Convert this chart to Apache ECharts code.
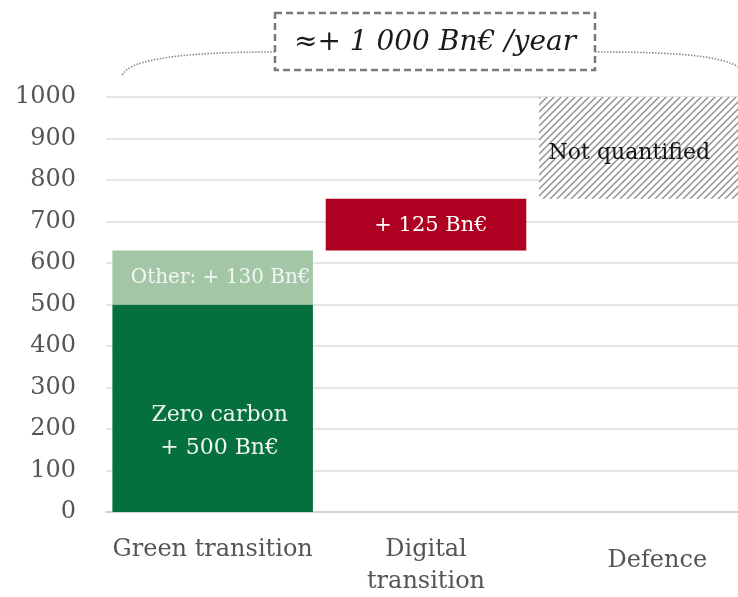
<!DOCTYPE html>
<html>
<head>
<meta charset="utf-8">
<script src="https://cdn.jsdelivr.net/npm/echarts@6/dist/echarts.min.js"></script>
<style>
  html, body { margin: 0; padding: 0; background: #ffffff; }
  #chart { width: 738px; height: 597px; }
</style>
</head>
<body>
<div id="chart"></div>
<script>
// Categories and annual investment needs (Bn€ per year)
const categories = ['Green transition', 'Digital\ntransition', 'Defence'];
const zeroCarbon = [500, '-', '-'];
const otherGreen = [130, '-', '-'];
const digital = ['-', 125, '-'];
const totalEstimate = 1000;
const yTicks = [0, 100, 200, 300, 400, 500, 600, 700, 800, 900, 1000];

// Waterfall base: each category starts where the previous one ended
const greenTotal = zeroCarbon[0] + otherGreen[0];
const digitalTop = greenTotal + digital[1];
const offsets = ['-', greenTotal, digitalTop];
const defence = ['-', '-', totalEstimate - digitalTop];

// Diagonal hatch used for the unquantified defence block
function hatchPattern() {
  const c = document.createElement('canvas');
  const s = 7;
  c.width = s; c.height = s;
  const ctx = c.getContext('2d');
  ctx.fillStyle = '#ffffff';
  ctx.fillRect(0, 0, s, s);
  ctx.strokeStyle = '#939393';
  ctx.lineWidth = 1.5;
  ctx.beginPath();
  ctx.moveTo(-1, s + 1); ctx.lineTo(s + 1, -1);
  ctx.moveTo(-1, 1); ctx.lineTo(1, -1);
  ctx.moveTo(s - 1, s + 1); ctx.lineTo(s + 1, s - 1);
  ctx.stroke();
  return c;
}

const serif = "'DejaVu Serif', 'Liberation Serif', serif";
const chart = echarts.init(document.getElementById('chart'));

chart.setOption({
  animation: false,
  backgroundColor: '#ffffff',
  grid: { left: 106, width: 640, top: 97, bottom: 85, outerBoundsMode: 'none' },
  xAxis: {
    type: 'category',
    data: categories,
    axisTick: { show: false },
    axisLine: { show: true, lineStyle: { color: '#d4d4d4', width: 2 } },
    axisLabel: {
      color: '#555555',
      fontFamily: serif,
      fontSize: 24,
      lineHeight: 32,
      margin: 22,
      interval: 0,
      formatter: function (v) {
        return v === 'Defence' ? '{d|' + v + '}' : v;
      },
      rich: {
        d: { fontFamily: serif, fontSize: 24, color: '#555555', padding: [22, 0, 0, 36] }
      }
    }
  },
  yAxis: {
    type: 'value',
    min: yTicks[0],
    max: yTicks[yTicks.length - 1],
    interval: 100,
    axisLine: { show: false },
    axisTick: { show: false },
    splitLine: { lineStyle: { color: '#dcdcdc', width: 1.5 } },
    axisLabel: {
      color: '#555555',
      fontFamily: serif,
      fontSize: 24,
      margin: 30,
      formatter: function (v) { return String(v); }
    }
  },
  series: [
    {
      name: 'offset',
      type: 'bar',
      stack: 'total',
      barWidth: '94%',
      data: offsets,
      itemStyle: { color: 'transparent' },
      silent: true
    },
    {
      name: 'Zero carbon',
      type: 'bar',
      stack: 'total',
      data: zeroCarbon,
      itemStyle: { color: '#05703d' },
      label: {
        show: true,
        position: 'inside',
        offset: [7, 24],
        formatter: function (p) { return 'Zero carbon\n+ ' + p.value + ' Bn€'; },
        color: '#eef4ee',
        fontFamily: serif,
        fontSize: 22,
        lineHeight: 33
      }
    },
    {
      name: 'Other',
      type: 'bar',
      stack: 'total',
      data: otherGreen,
      itemStyle: { color: '#a3c7a6' },
      label: {
        show: true,
        position: 'inside',
        offset: [8, 0],
        formatter: function (p) { return 'Other: + ' + p.value + ' Bn€'; },
        color: '#f3f7f3',
        fontFamily: serif,
        fontSize: 20
      }
    },
    {
      name: 'Digital',
      type: 'bar',
      stack: 'total',
      data: digital,
      itemStyle: { color: '#ae0020' },
      label: {
        show: true,
        position: 'inside',
        offset: [5, 1],
        formatter: function (p) { return '+ ' + p.value + ' Bn€'; },
        color: '#ffffff',
        fontFamily: serif,
        fontSize: 21
      }
    },
    {
      name: 'Defence',
      type: 'bar',
      stack: 'total',
      data: defence,
      itemStyle: { color: { image: hatchPattern(), repeat: 'repeat' } },
      label: {
        show: true,
        position: 'inside',
        offset: [-10, 5],
        formatter: 'Not quantified',
        color: '#151515',
        fontFamily: serif,
        fontSize: 22
      }
    }
  ],
  graphic: [
    {
      type: 'bezierCurve',
      shape: { x1: 275, y1: 52, cpx1: 190, cpy1: 52, cpx2: 128, cpy2: 58, x2: 122, y2: 76 },
      style: { stroke: '#8a8a8a', lineWidth: 1.6, lineDash: [1.5, 1.5], fill: null }
    },
    {
      type: 'bezierCurve',
      shape: { x1: 595, y1: 52, cpx1: 680, cpy1: 52, cpx2: 728, cpy2: 56, x2: 742, y2: 70 },
      style: { stroke: '#8a8a8a', lineWidth: 1.6, lineDash: [1.5, 1.5], fill: null }
    },
    {
      type: 'rect',
      shape: { x: 275, y: 13, width: 320, height: 57 },
      style: { fill: '#ffffff', stroke: '#7a7a7a', lineWidth: 2.5, lineDash: [7, 4] }
    },
    {
      type: 'text',
      x: 435,
      y: 43,
      style: {
        text: '≈+ 1 000 Bn€ /year',
        align: 'center',
        verticalAlign: 'middle',
        fill: '#1a1a1a',
        font: "italic 28px 'DejaVu Serif', 'Liberation Serif', serif"
      }
    }
  ]
});
</script>
</body>
</html>
